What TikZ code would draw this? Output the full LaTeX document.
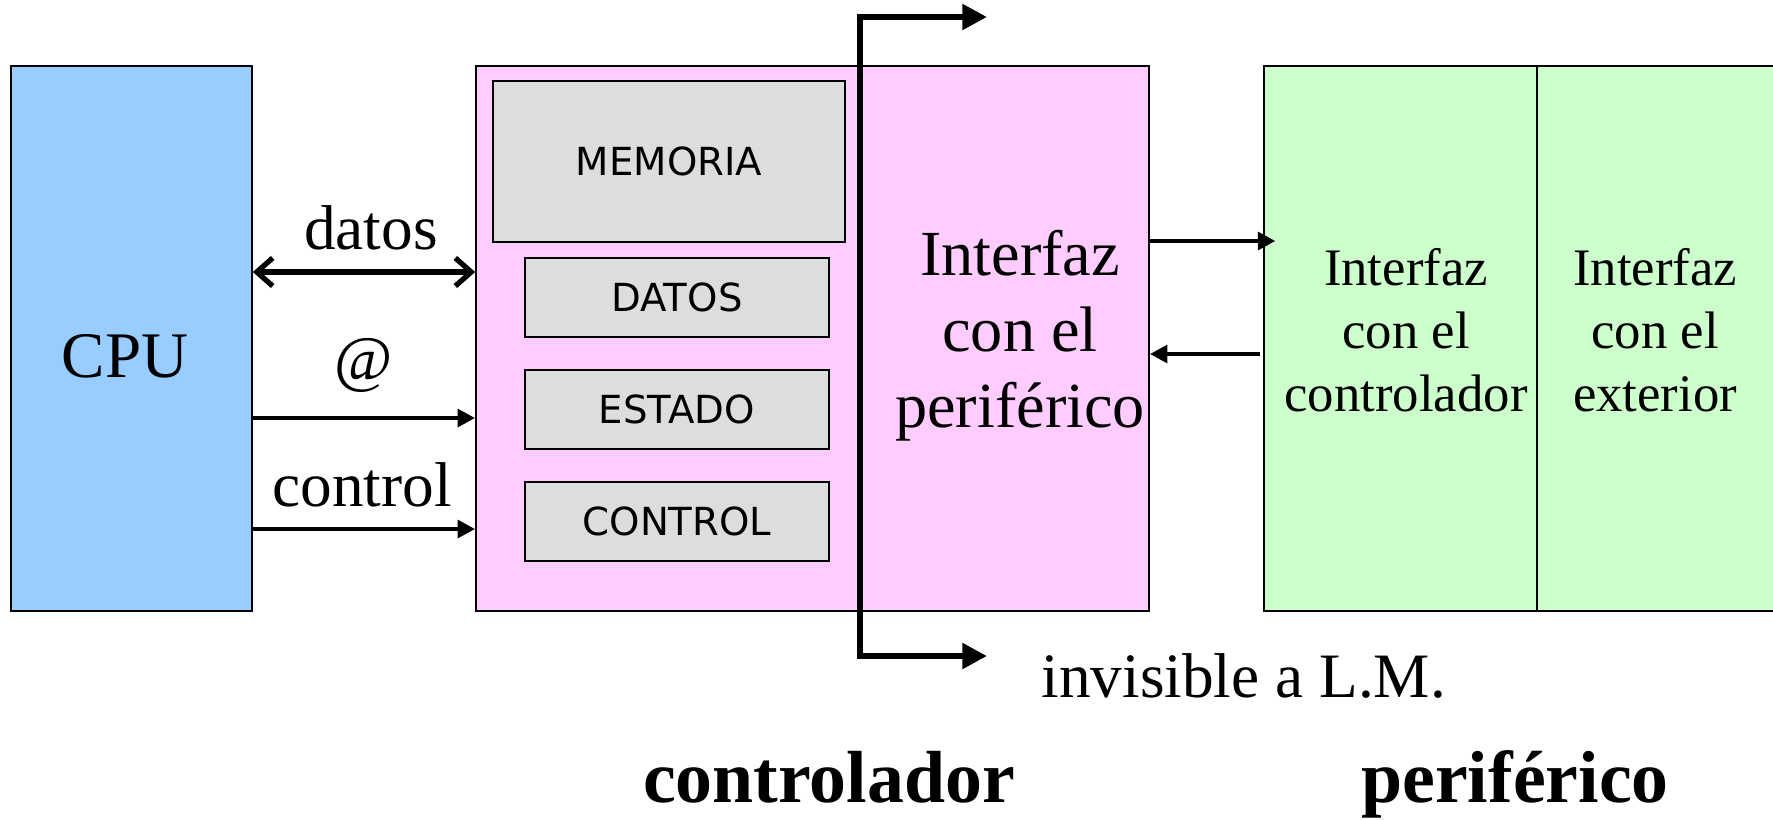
\documentclass[tikz,border=0pt]{standalone}
\usepackage{fontspec}
\setmainfont{Liberation Serif}
\newfontfamily\regfont{DejaVu Sans}
\usepackage{xcolor}
\usetikzlibrary{arrows.meta}

\definecolor{cpublue}{HTML}{99CCFF}
\definecolor{ctrlpink}{HTML}{FFCCFF}
\definecolor{perigreen}{HTML}{CCFFCC}
\definecolor{reggray}{HTML}{DDDDDD}

\begin{document}
\begin{tikzpicture}[x=1cm, y=-1cm,
        blk/.style={draw=black, line width=0.5pt, inner sep=0pt, minimum height=5.45cm},
        reg/.style={draw=black, line width=0.8pt, fill=reggray, inner sep=0pt,
                    font=\regfont\fontsize{11}{13}\selectfont},
        lbl/.style={inner sep=0pt, anchor=base, font=\fontsize{18}{21}\selectfont},
        bus/.style={line width=1.3pt, -{Triangle[length=5pt,width=5pt]}},
        lm/.style={line width=1.8pt, {Triangle[length=7pt,width=7pt]}-{Triangle[length=7pt,width=7pt]}}
      ]
  \useasboundingbox (0,0) rectangle (17.73,8.19);

  % bloques principales
  \node[blk, fill=cpublue, minimum width=2.41cm] (cpu) at (1.315,3.385) {};
  \node[lbl, font=\fontsize{18.5}{21}\selectfont] (cpulbl) at (1.25,3.77) {CPU};
  \node[blk, fill=ctrlpink, minimum width=6.73cm] (ctrl) at (8.125,3.385) {};
  \node[blk, fill=perigreen, minimum width=2.73cm] (pif) at (14.005,3.385) {};
  \node[blk, fill=perigreen, minimum width=2.45cm] (pext) at (16.595,3.385) {};

  % registros del controlador
  \node[reg, minimum width=3.52cm, minimum height=1.61cm] (mem) at (6.69,1.615) {MEMORIA};
  \foreach \name/\txt/\y in {rdat/DATOS/2.975, rest/ESTADO/4.095, rctl/CONTROL/5.215} {
    \node[reg, minimum width=3.04cm, minimum height=0.79cm] (\name) at (6.77,\y) {\txt};
  }

  \node[align=center, inner sep=0pt, font=\fontsize{18.3}{21.6}\selectfont] (ctrltxt)
    at (10.20,3.36) {Interfaz\\con el\\periférico};
  \node[align=center, inner sep=0pt, font=\fontsize{15}{17.9}\selectfont] (piftxt)
    at (14.06,3.30) {Interfaz\\con el\\controlador};
  \node[align=center, inner sep=0pt, font=\fontsize{15}{17.9}\selectfont] (pexttxt)
    at (16.55,3.30) {Interfaz\\con el\\exterior};

  % buses CPU - controlador
  \draw[line width=1.5pt, {Straight Barb[length=4.5pt,width=8pt]}-{Straight Barb[length=4.5pt,width=8pt]}]
    (cpu.east |- 0,2.72) -- (ctrl.west |- 0,2.72);
  \draw[bus] (cpu.east |- 0,4.18) -- (ctrl.west |- 0,4.18);
  \draw[bus] (cpu.east |- 0,5.29) -- (ctrl.west |- 0,5.29);
  \node[lbl] (datoslbl) at (3.71,2.49) {datos};
  \node[lbl] (dirlbl) at (3.64,3.80) {@};
  \node[lbl] (ctllbl) at (3.62,5.06) {control};

  % controlador - periferico
  \draw[bus] (ctrl.east |- 0,2.41) -- ([xshift=3.5pt]pif.west |- 0,2.41);
  \draw[bus] ([xshift=-1pt]pif.west |- 0,3.54) -- (ctrl.east |- 0,3.54);

  % frontera visible / invisible
  \coordinate (lmup) at (9.87,0.17);
  \coordinate (lmdown) at (9.87,6.56);
  \draw[lm] (lmup) -| (8.60,6.56) -- (lmdown);
  \node[inner sep=0pt, anchor=base west, font=\fontsize{18}{21}\selectfont] (invlbl)
    at (10.41,6.97) {invisible a L.M.};

  \node[lbl, font=\bfseries\fontsize{21}{25}\selectfont] (ctrlname) at (8.29,8.02) {controlador};
  \node[lbl, font=\bfseries\fontsize{21}{25}\selectfont] (periname) at (15.15,8.02) {periférico};

\end{tikzpicture}
\end{document}
